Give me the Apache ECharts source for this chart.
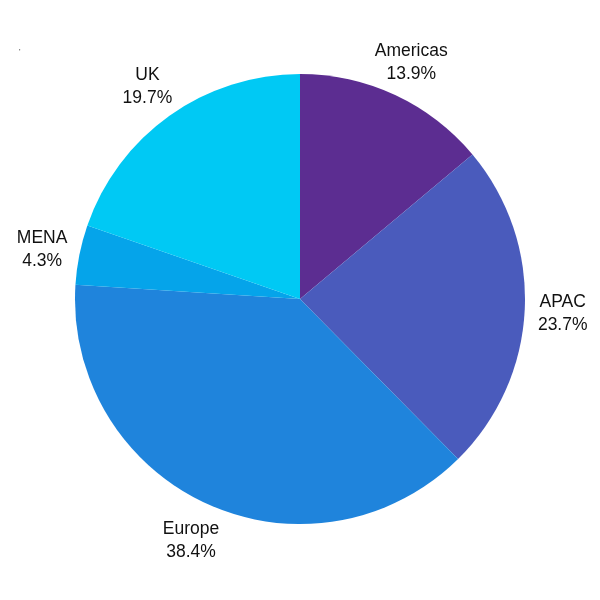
<!DOCTYPE html>
<html><head><meta charset="utf-8">
<script src="https://cdn.jsdelivr.net/npm/echarts@6/dist/echarts.min.js"></script>
<style>html,body{margin:0;padding:0;background:#fff}#c{width:600px;height:600px}</style>
</head><body><div id="c"></div>
<script>
const categories = ['Americas', 'APAC', 'Europe', 'MENA', 'UK'];
const values = [13.9, 23.7, 38.4, 4.3, 19.7];
const colors = ['#5C2D91', '#4A5BBC', '#1F84DC', '#05A4EA', '#00C9F4'];

const data = categories.map((n, i) => ({ name: n, value: values[i], itemStyle: { color: colors[i] } }));
const labelData = categories.map((n, i) => ({ name: n, value: values[i] }));

const chart = echarts.init(document.getElementById('c'), null, { renderer: 'canvas' });
chart.setOption({
  animation: false,
  backgroundColor: '#fff',
  title: { text: "'", left: 14, top: 43, textStyle: { fontSize: 8, color: '#333', fontWeight: 'normal' } },
  series: [
    {
      type: 'pie', center: [300, 299], radius: [0, 225], startAngle: 90, clockwise: true,
      silent: true, label: { show: false }, labelLine: { show: false },
      data: data
    },
    {
      type: 'pie', center: [300, 301], radius: [225, 295], startAngle: 90, clockwise: true,
      silent: true, itemStyle: { color: 'rgba(0,0,0,0)' },
      label: {
        show: true, position: 'inside', color: '#111', fontSize: 17.5, lineHeight: 23,
        fontFamily: 'Liberation Sans, Arial, sans-serif', align: 'center',
        formatter: p => p.name + '\n' + p.value.toFixed(1) + '%'
      },
      labelLine: { show: false },
      data: labelData
    }
  ]
});
</script></body></html>
